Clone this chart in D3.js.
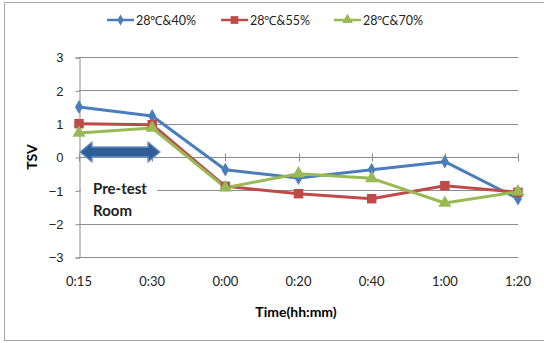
<!DOCTYPE html>
<html>
<head>
<meta charset="utf-8">
<script src="https://cdn.jsdelivr.net/npm/d3@7"></script>
<style>
  body { margin: 0; background: #fff; }
  svg { display: block; font-family: Lato, "Open Sans", sans-serif; }
</style>
</head>
<body>
<div id="chart"></div>
<script>
// data
var times = ["0:15", "0:30", "0:00", "0:20", "0:40", "1:00", "1:20"];
var yTicks = [-3, -2, -1, 0, 1, 2, 3];
var rh40 = [1.5, 1.23, -0.38, -0.63, -0.38, -0.14, -1.25];
var rh55 = [1.0, 0.97, -0.88, -1.1, -1.25, -0.86, -1.06];
var rh70 = [0.72, 0.87, -0.92, -0.5, -0.64, -1.38, -1.04];
var seriesNames = ["28℃&40%", "28℃&55%", "28℃&70%"];

var width = 544, height = 343;
var margin = {top: 57, right: 26, bottom: 86, left: 79};

var svg = d3.select("#chart")
    .append("svg")
    .attr("width", width)
    .attr("height", height);

// outer frame
svg.append("rect")
    .attr("x", 4.5).attr("y", 2.5)
    .attr("width", 545).attr("height", 338)
    .attr("fill", "none")
    .attr("stroke", "#a6a6a6");

var x = d3.scalePoint()
    .domain(times)
    .range([margin.left, width - margin.right]);

var y = d3.scaleLinear()
    .domain([-3, 3])
    .range([height - margin.bottom, margin.top]);

// gridlines
svg.append("g")
    .selectAll("line")
    .data(yTicks)
    .enter()
    .append("line")
    .attr("x1", margin.left)
    .attr("x2", width - margin.right)
    .attr("y1", function(d){ return Math.round(y(d)) + 0.5; })
    .attr("y2", function(d){ return Math.round(y(d)) + 0.5; })
    .attr("stroke", "#8c8c8c");

// left axis
var yAxis = svg.append("g")
    .attr("transform", "translate(" + (margin.left + 0.5) + ",0.5)")
    .call(d3.axisLeft(y).tickValues(yTicks).tickFormat(d3.format("d")).tickSize(4).tickPadding(12));
yAxis.selectAll("line, path").attr("stroke", "#8c8c8c");
yAxis.selectAll("text").attr("font-size", 13).attr("fill", "#222");

// category axis sits on zero
var xAxis = svg.append("g")
    .attr("transform", "translate(0.5," + (Math.round(y(0)) + 0.5) + ")");
xAxis.append("line")
    .attr("x1", margin.left).attr("x2", width - margin.right)
    .attr("stroke", "#8c8c8c");
xAxis.selectAll(".tk")
    .data(times)
    .enter()
    .append("line")
    .attr("x1", function(d){ return Math.round(x(d)); })
    .attr("x2", function(d){ return Math.round(x(d)); })
    .attr("y1", -4).attr("y2", 4)
    .attr("stroke", "#8c8c8c");

// category labels along the bottom
svg.append("g")
    .selectAll("text")
    .data(times)
    .enter()
    .append("text")
    .attr("x", function(d){ return x(d); })
    .attr("y", 286)
    .attr("text-anchor", "middle")
    .attr("font-size", 13)
    .attr("fill", "#222")
    .text(function(d){ return d; });

svg.append("text")
    .attr("x", 296).attr("y", 317)
    .attr("text-anchor", "middle")
    .attr("font-size", 14)
    .attr("font-weight", "bold")
    .text("Time(hh:mm)");

svg.append("text")
    .attr("transform", "translate(37," + y(0) + ") rotate(-90)")
    .attr("text-anchor", "middle")
    .attr("font-size", 14)
    .attr("font-weight", "bold")
    .text("TSV");

// white box behind the label
svg.append("rect")
    .attr("x", 81).attr("y", 172)
    .attr("width", 76).attr("height", 52)
    .attr("fill", "#fff");

svg.append("text")
    .attr("x", 93).attr("y", 194)
    .attr("font-size", 15).attr("font-weight", "bold")
    .attr("fill", "#222")
    .text("Pre-test");
svg.append("text")
    .attr("x", 93).attr("y", 216)
    .attr("font-size", 15).attr("font-weight", "bold")
    .attr("fill", "#222")
    .text("Room");

// series
var colors = ["#4a7ebb", "#be4b48", "#98b954"];
var allSeries = [rh40, rh55, rh70];

var line = d3.line()
    .x(function(d, i){ return x(times[i]); })
    .y(function(d){ return y(d); });

var symbols = [
    d3.symbol().type(d3.symbolDiamond).size(55),
    d3.symbol().type(d3.symbolSquare).size(90),
    d3.symbol().type(d3.symbolTriangle).size(75)
];
var legendSymbols = [
    d3.symbol().type(d3.symbolDiamond).size(35),
    d3.symbol().type(d3.symbolSquare).size(60),
    d3.symbol().type(d3.symbolTriangle).size(50)
];

allSeries.forEach(function(vals, s) {
    svg.append("path")
        .datum(vals)
        .attr("d", line)
        .attr("fill", "none")
        .attr("stroke", colors[s])
        .attr("stroke-width", 3)
        .attr("stroke-linejoin", "round");
});
allSeries.forEach(function(vals, s) {
    svg.append("g")
        .selectAll("path")
        .data(vals)
        .enter()
        .append("path")
        .attr("d", symbols[s])
        .attr("transform", function(d, i){ return "translate(" + x(times[i]) + "," + y(d) + ")"; })
        .attr("fill", colors[s]);
});

// double arrow for the pre-test room span
var ay = 152, ax1 = 80, ax2 = 160;
var arrow = [
    [ax1, ay], [ax1 + 12, ay - 10], [ax1 + 12, ay - 5], [ax2 - 12, ay - 5],
    [ax2 - 12, ay - 10], [ax2, ay], [ax2 - 12, ay + 10], [ax2 - 12, ay + 5],
    [ax1 + 12, ay + 5], [ax1 + 12, ay + 10]
];
svg.append("path")
    .attr("d", d3.line()(arrow) + "Z")
    .attr("fill", "#2f5d98")
    .attr("stroke", "#6e93c4")
    .attr("stroke-width", 1.5)
    .attr("stroke-linejoin", "round");

// legend
var legendX = [107, 221, 334];
var legend = svg.append("g");
seriesNames.forEach(function(name, s) {
    var g = legend.append("g").attr("transform", "translate(" + legendX[s] + ",20)");
    g.append("line")
        .attr("x1", 0).attr("x2", 27)
        .attr("stroke", colors[s]).attr("stroke-width", 2.5);
    g.append("path")
        .attr("d", legendSymbols[s])
        .attr("transform", "translate(13.5,0)")
        .attr("fill", colors[s]);
    g.append("text")
        .attr("x", 29).attr("y", 4.5)
        .attr("font-size", 12.5)
        .attr("fill", "#222")
        .text(name);
});
</script>
</body>
</html>
